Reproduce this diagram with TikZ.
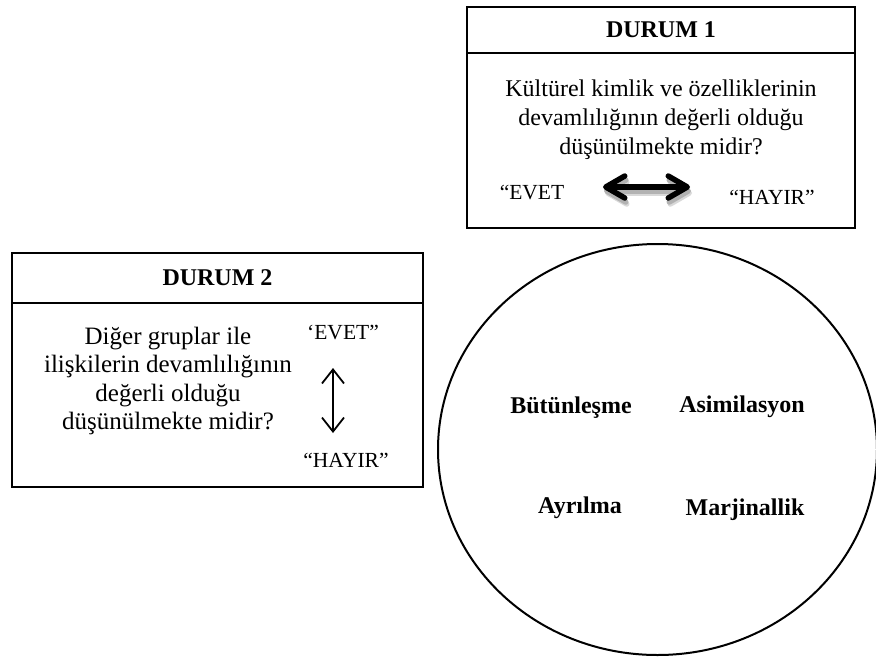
\documentclass[tikz,border=0pt]{standalone}
\usepackage{fontspec}
\setmainfont{Liberation Serif}
\usepackage{tikz}
\usetikzlibrary{shapes.geometric,arrows.meta,positioning}

\begin{document}
\begin{tikzpicture}[x=1pt, y=-1pt,
    boxhead/.style={rectangle, draw, line width=2.4pt, outer sep=0pt, font=\fontsize{24}{29}\selectfont\bfseries},
    boxbody/.style={rectangle, draw, line width=2.4pt, outer sep=0pt},
    question/.style={align=center, font=\fontsize{24}{29}\selectfont},
    answer/.style={font=\fontsize{21.5}{26}\selectfont},
    strategy/.style={font=\fontsize{24}{29}\selectfont\bfseries},
    bigarrow/.style={line width=5.5pt, line cap=round, {Straight Barb[length=19pt, width=22pt, line join=round, line cap=round]}-{Straight Barb[length=19pt, width=22pt, line join=round, line cap=round]}},
    thinarrow/.style={line width=1.8pt, {Straight Barb[length=14pt, width=22pt]}-{Straight Barb[length=14pt, width=22pt]}}
]
\useasboundingbox (0,0) rectangle (876,657);

% DURUM 1 - TOP RIGHT
\node[boxhead, minimum width=388pt, minimum height=46pt] (head1) at (661,30) {DURUM 1};
\node[boxbody, minimum width=388pt, minimum height=175pt, below=0pt of head1] (body1) {};

\node[question] (q1) at (661,120) {Kültürel kimlik ve özelliklerinin\\devamlılığının değerli olduğu\\düşünülmekte midir?};

\node[answer] (evet1) at (532,192) {“EVET};
\node[answer] (hayir1) at (772,197) {“HAYIR”};

\coordinate (a1l) at (603,187);
\coordinate (a1r) at (690,187);
\draw[bigarrow, black!15] ([shift={(2,6)}]a1l) -- ([shift={(2,6)}]a1r);
\draw[bigarrow, black!30] ([shift={(1,4)}]a1l) -- ([shift={(1,4)}]a1r);
\draw[bigarrow] (a1l) -- (a1r);

% DURUM 2 - LEFT
\node[boxhead, minimum width=411pt, minimum height=50pt] (head2) at (217.5,278) {DURUM 2};
\node[boxbody, minimum width=411pt, minimum height=184pt, below=0pt of head2] (body2) {};

\node[question, font=\fontsize{25}{28.5}\selectfont] (q2) at (168,381) {Diğer gruplar ile\\ilişkilerin devamlılığının\\değerli olduğu\\düşünülmekte midir?};

\node[answer] (evet2) at (343,332) {‘EVET”};
\node[answer] (hayir2) at (346,460) {“HAYIR”};

\coordinate (a2t) at (333,368);
\coordinate (a2b) at (333,433);
\draw[thinarrow] (a2t) -- (a2b);

% Strategies circle
\node[draw, ellipse, line width=2pt, minimum width=439pt, minimum height=411pt] (circ) at (657.5,449.5) {};

\node[strategy] (butun) at (571,408) {Bütünleşme};
\node[strategy] (asim) at (742,407) {Asimilasyon};
\node[strategy] (ayril) at (580,508) {Ayrılma};
\node[strategy] (marj) at (745,510) {Marjinallik};

\end{tikzpicture}
\end{document}
